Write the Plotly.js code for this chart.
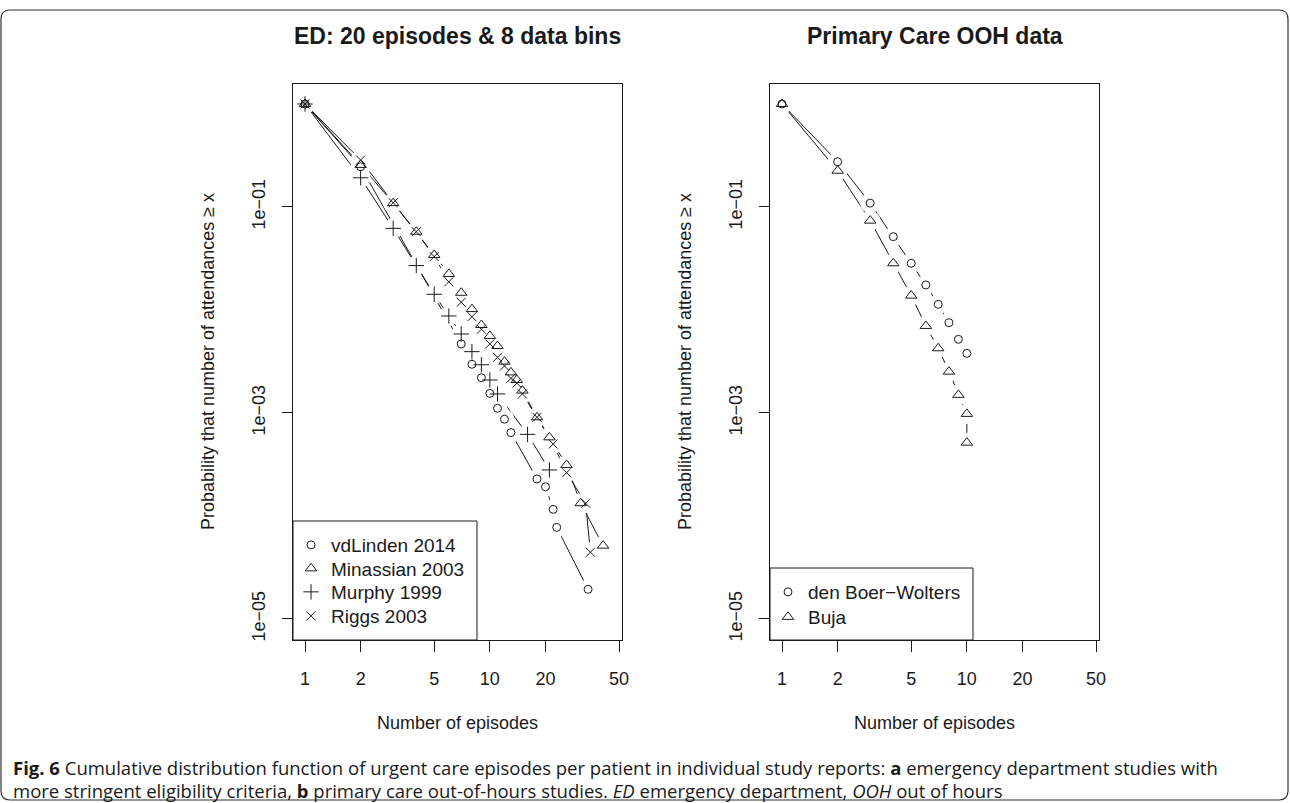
<!DOCTYPE html>
<html>
<head>
<meta charset="utf-8">
<script src="https://cdn.plot.ly/plotly-3.0.1.min.js"></script>
<style>html,body{margin:0;padding:0;background:#fff;}#chart{width:1290px;height:803px;}</style>
</head>
<body>
<div id="chart"></div>
<script>
// ---- Data ----
// Panel a: ED studies
const vdLindenX = [1, 2, 7, 8, 9, 10, 11, 12, 13, 18, 20, 22, 23, 34];
const vdLindenP = [1, 0.246, 0.00468, 0.00297, 0.0022, 0.00155, 0.00111, 0.00087, 0.000645, 0.000229, 0.000192, 0.000116, 0.0000776, 0.0000194];

const minassianX = [1, 2, 3, 4, 5, 6, 7, 8, 9, 10, 11, 12, 13, 14, 15, 18, 21, 26, 31, 41];
const minassianP = [1, 0.256, 0.109, 0.0575, 0.0342, 0.0224, 0.0147, 0.0102, 0.00715, 0.0056, 0.00447, 0.00315, 0.00248, 0.00209, 0.00165, 0.000908, 0.00058, 0.000313, 0.000133, 0.0000515];

const murphyX = [1, 2, 3, 4, 5, 6, 7, 8, 9, 10, 11, 16, 21];
const murphyP = [1, 0.192, 0.062, 0.027, 0.0142, 0.00875, 0.00585, 0.00394, 0.00294, 0.00209, 0.00153, 0.00062, 0.00028];

const riggsX = [1, 2, 3, 4, 5, 6, 7, 8, 9, 10, 11, 12, 13, 14, 15, 18, 22, 26, 33, 35];
const riggsP = [1, 0.286, 0.11, 0.0575, 0.033, 0.0188, 0.0119, 0.0086, 0.0065, 0.00468, 0.00347, 0.00286, 0.00217, 0.00195, 0.00153, 0.000908, 0.0005, 0.000263, 0.000133, 0.0000445];

// Panel b: primary care OOH
const boerX = [1, 2, 3, 4, 5, 6, 7, 8, 9, 10];
const boerP = [1, 0.275, 0.109, 0.0515, 0.0284, 0.0175, 0.01135, 0.00753, 0.00519, 0.00379];

const bujaX = [1, 2, 3, 4, 5, 6, 7, 8, 9, 10, 10];
const bujaP = [1, 0.225, 0.0737, 0.0284, 0.0138, 0.0070, 0.00425, 0.00252, 0.0015, 0.00098, 0.000515];

// Tick labels
const xTickVals = [1, 2, 5, 10, 20, 50];
const xTickText = ['1', '2', '5', '10', '20', '50'];
const yTickVals = [1e-5, 1e-3, 1e-1];
const yTickText = ['1e\u221205', '1e\u221203', '1e\u221201'];

// ---- Build ----
const INK = '#1a1a1a';
const FONT = 'Liberation Sans, Arial, sans-serif';
const W = 1290, H = 803;
const px = v => v / W;
const py = v => 1 - v / H;

// legend row positions (pixels) are layout, not data
const seriesA = [
  {name: 'vdLinden 2014', x: vdLindenX, y: vdLindenP, symbol: 'circle-open', size: 8, leg: 'legend', lx: 291, ly: 545},
  {name: 'Minassian 2003', x: minassianX, y: minassianP, symbol: 'triangle-up-open', size: 10, leg: 'legend2', lx: 291, ly: 568.5},
  {name: 'Murphy 1999', x: murphyX, y: murphyP, symbol: 'cross-thin-open', size: 11, leg: 'legend3', lx: 291, ly: 592},
  {name: 'Riggs 2003', x: riggsX, y: riggsP, symbol: 'x-thin-open', size: 9, leg: 'legend4', lx: 291, ly: 616}
];
const seriesB = [
  {name: 'den Boer\u2212Wolters', x: boerX, y: boerP, symbol: 'circle-open', size: 8, leg: 'legend5', lx: 768, ly: 592},
  {name: 'Buja', x: bujaX, y: bujaP, symbol: 'triangle-up-open', size: 10, leg: 'legend6', lx: 768, ly: 617}
];

function tracesFor(series, xa, ya) {
  const lines = series.map(s => ({
    type: 'scatter', mode: 'lines', x: s.x, y: s.y, xaxis: xa, yaxis: ya,
    line: {color: INK, width: 1}, showlegend: false, hoverinfo: 'skip'
  }));
  const halos = series.map(s => ({
    type: 'scatter', mode: 'markers', x: s.x, y: s.y, xaxis: xa, yaxis: ya,
    marker: {color: '#ffffff', size: 20, line: {width: 0}}, showlegend: false, hoverinfo: 'skip'
  }));
  const marks = series.map(s => ({
    type: 'scatter', mode: 'markers', name: s.name, x: s.x, y: s.y, xaxis: xa, yaxis: ya,
    legend: s.leg, showlegend: true,
    marker: {symbol: s.symbol, size: s.size, color: INK, line: {color: INK, width: 1}}
  }));
  return lines.concat(halos, marks);
}

const data = tracesFor(seriesA, 'x', 'y').concat(tracesFor(seriesB, 'x2', 'y2'));

function xAxis(domain, anchor) {
  return {
    type: 'log', range: [-0.065, 1.715], domain: domain, anchor: anchor,
    tickmode: 'array', tickvals: xTickVals, ticktext: xTickText,
    ticks: 'outside', ticklen: 11, tickwidth: 1, tickcolor: INK,
    showline: true, linecolor: INK, linewidth: 1, mirror: true,
    showgrid: false, zeroline: false, ticklabelstandoff: 11,
    tickfont: {family: FONT, size: 18, color: INK}, fixedrange: true
  };
}
function yAxis(anchor) {
  return {
    type: 'log', range: [-5.204, 0.194], domain: [py(640), py(84)], anchor: anchor,
    tickmode: 'array', tickvals: yTickVals, ticktext: yTickText, tickangle: -90,
    ticks: 'outside', ticklen: 10, tickwidth: 1, tickcolor: INK,
    showline: true, linecolor: INK, linewidth: 1, mirror: true,
    showgrid: false, zeroline: false, ticklabelstandoff: 10,
    tickfont: {family: FONT, size: 18, color: INK}, fixedrange: true
  };
}

const r = 9, bx0 = 1, bx1 = 1288, by0 = 10, by1 = 800;
const borderPath = `M ${px(bx0 + r)} ${py(by0)} L ${px(bx1 - r)} ${py(by0)} Q ${px(bx1)} ${py(by0)} ${px(bx1)} ${py(by0 + r)} ` +
  `L ${px(bx1)} ${py(by1 - r)} Q ${px(bx1)} ${py(by1)} ${px(bx1 - r)} ${py(by1)} ` +
  `L ${px(bx0 + r)} ${py(by1)} Q ${px(bx0)} ${py(by1)} ${px(bx0)} ${py(by1 - r)} ` +
  `L ${px(bx0)} ${py(by0 + r)} Q ${px(bx0)} ${py(by0)} ${px(bx0 + r)} ${py(by0)} Z`;

const legendCommon = {
  bgcolor: 'rgba(0,0,0,0)', borderwidth: 0, font: {family: FONT, size: 19, color: INK},
  itemwidth: 30, tracegroupgap: 0, xanchor: 'left', yanchor: 'middle', itemclick: false, itemdoubleclick: false
};

const capFont = {family: 'Open Sans, sans-serif', size: 18.5, color: INK};

const layout = {
  width: W, height: H, margin: {l: 0, r: 0, t: 0, b: 0},
  paper_bgcolor: '#ffffff', plot_bgcolor: '#ffffff',
  showlegend: true,
  xaxis: xAxis([px(293), px(622)], 'y'),
  yaxis: yAxis('x'),
  xaxis2: xAxis([px(770), px(1099)], 'y2'),
  yaxis2: yAxis('x2'),
  shapes: [
    {type: 'path', xref: 'paper', yref: 'paper', path: borderPath, line: {color: '#333', width: 1.2}},
    {type: 'rect', xref: 'paper', yref: 'paper', x0: px(293), x1: px(477), y0: py(640), y1: py(521), line: {color: INK, width: 1}, fillcolor: 'rgba(0,0,0,0)'},
    {type: 'rect', xref: 'paper', yref: 'paper', x0: px(770), x1: px(973), y0: py(640), y1: py(568), line: {color: INK, width: 1}, fillcolor: 'rgba(0,0,0,0)'}
  ],
  annotations: [
    {text: '<b>ED: 20 episodes & 8 data bins</b>', xref: 'paper', yref: 'paper', x: px(457.5), y: py(36), xanchor: 'center', yanchor: 'middle', showarrow: false, font: {family: FONT, size: 23, color: INK}},
    {text: '<b>Primary Care OOH data</b>', xref: 'paper', yref: 'paper', x: px(934.5), y: py(36), xanchor: 'center', yanchor: 'middle', showarrow: false, font: {family: FONT, size: 23, color: INK}},
    {text: 'Number of episodes', xref: 'paper', yref: 'paper', x: px(457.5), y: py(723), xanchor: 'center', yanchor: 'middle', showarrow: false, font: {family: FONT, size: 18, color: INK}},
    {text: 'Number of episodes', xref: 'paper', yref: 'paper', x: px(934.5), y: py(723), xanchor: 'center', yanchor: 'middle', showarrow: false, font: {family: FONT, size: 18, color: INK}},
    {text: 'Probability that number of attendances \u2265 x', xref: 'paper', yref: 'paper', x: px(208), y: py(362), xanchor: 'center', yanchor: 'middle', textangle: -90, showarrow: false, font: {family: FONT, size: 18, color: INK}},
    {text: 'Probability that number of attendances \u2265 x', xref: 'paper', yref: 'paper', x: px(685), y: py(362), xanchor: 'center', yanchor: 'middle', textangle: -90, showarrow: false, font: {family: FONT, size: 18, color: INK}},
    {text: '<b>Fig. 6</b> Cumulative distribution function of urgent care episodes per patient in individual study reports: <b>a</b> emergency department studies with', xref: 'paper', yref: 'paper', x: px(11), y: py(767), xanchor: 'left', yanchor: 'middle', showarrow: false, font: capFont},
    {text: 'more stringent eligibility criteria, <b>b</b> primary care out-of-hours studies. <i>ED</i> emergency department, <i>OOH</i> out of hours', xref: 'paper', yref: 'paper', x: px(11), y: py(790), xanchor: 'left', yanchor: 'middle', showarrow: false, font: capFont}
  ]
};

// one single-entry legend per series, placed at its row
seriesA.concat(seriesB).forEach(s => {
  layout[s.leg] = Object.assign({}, legendCommon, {x: px(s.lx), y: py(s.ly)});
});

Plotly.newPlot('chart', data, layout, {displayModeBar: false, staticPlot: true});
</script>
</body>
</html>
